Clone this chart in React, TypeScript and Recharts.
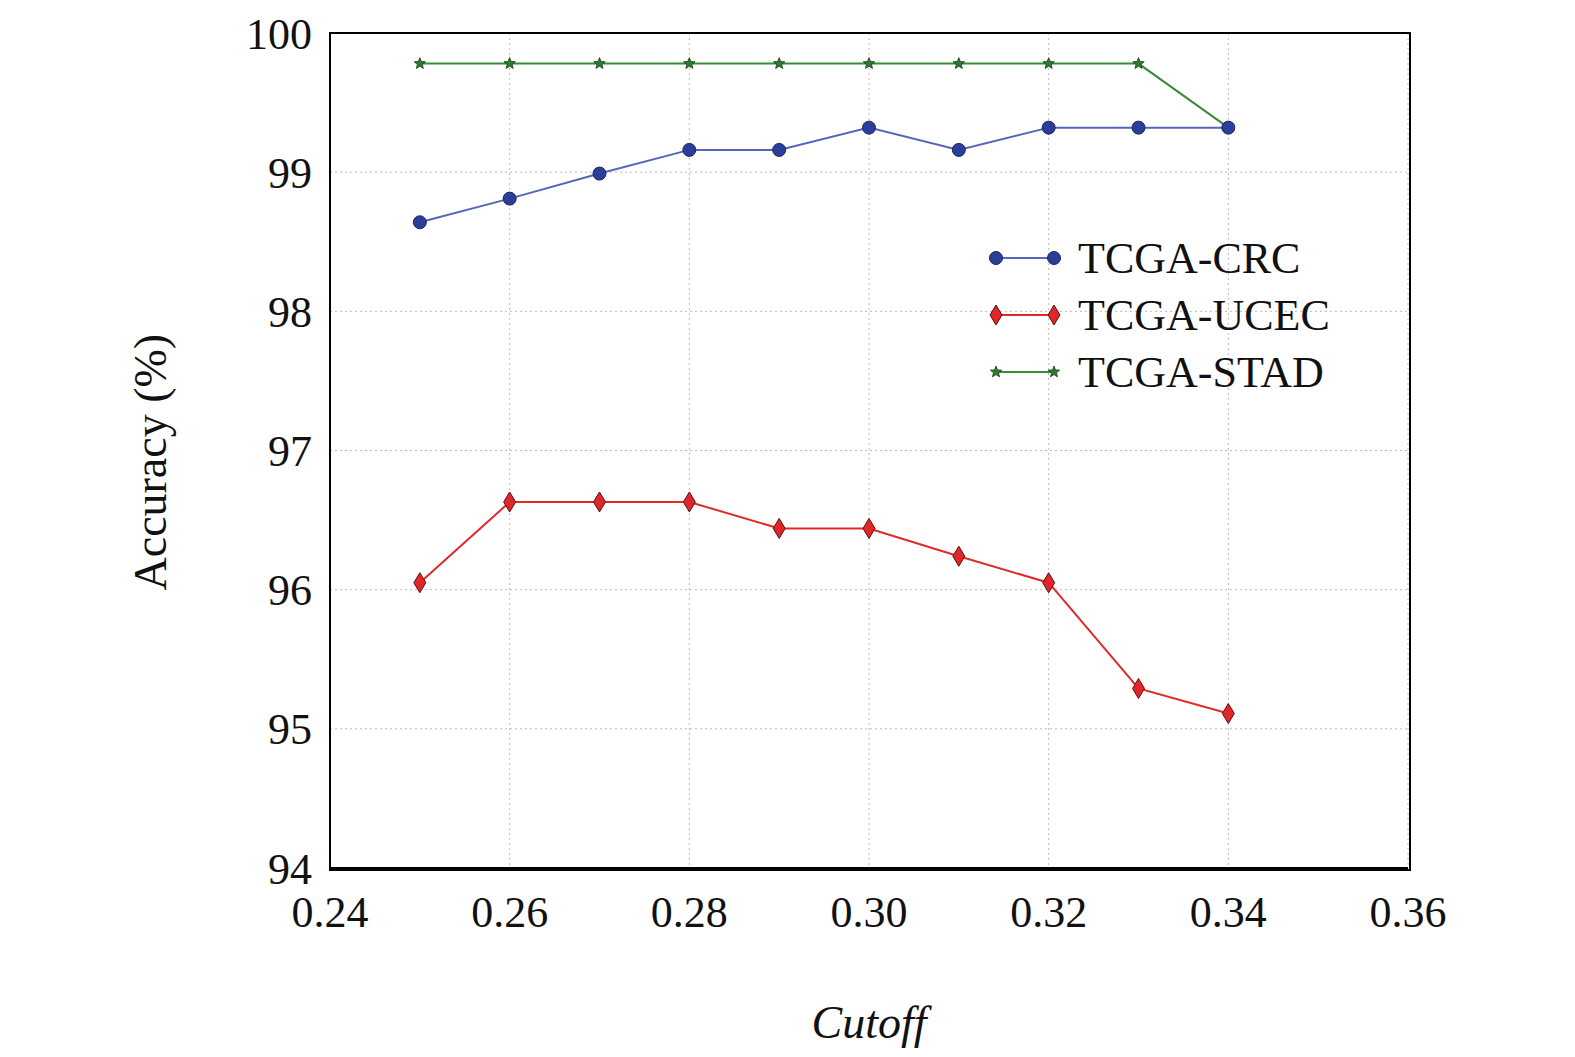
import React from 'react';
import { LineChart, Line, XAxis, YAxis, CartesianGrid } from 'recharts';

const cutoffs = [0.25, 0.26, 0.27, 0.28, 0.29, 0.3, 0.31, 0.32, 0.33, 0.34];
const crc = [98.64, 98.81, 98.99, 99.16, 99.16, 99.32, 99.16, 99.32, 99.32, 99.32];
const ucec = [96.05, 96.63, 96.63, 96.63, 96.44, 96.44, 96.24, 96.05, 95.29, 95.11];
const stad = [99.78, 99.78, 99.78, 99.78, 99.78, 99.78, 99.78, 99.78, 99.78, 99.32];
const xTicks = [0.24, 0.26, 0.28, 0.3, 0.32, 0.34, 0.36];
const yTicks = [94, 95, 96, 97, 98, 99, 100];

const data = cutoffs.map((c, i) => ({ cutoff: c, crc: crc[i], ucec: ucec[i], stad: stad[i] }));

const FONT = '"Liberation Serif", "Times New Roman", serif';

const Circle = ({ cx, cy }: any) => (
  <circle cx={cx} cy={cy} r={6.5} fill="#2b3f9a" stroke="#1a2560" strokeWidth={1} />
);
const Diamond = ({ cx, cy }: any) => (
  <polygon points={`${cx},${cy - 10} ${cx + 6},${cy} ${cx},${cy + 10} ${cx - 6},${cy}`}
    fill="#e0262a" stroke="#5a1010" strokeWidth={1} />
);
const Star = ({ cx, cy }: any) => {
  const pts: string[] = [];
  for (let k = 0; k < 10; k++) {
    const r = k % 2 === 0 ? 6 : 2.6;
    const a = -Math.PI / 2 + (k * Math.PI) / 5;
    pts.push(`${cx + r * Math.cos(a)},${cy + r * Math.sin(a)}`);
  }
  return <polygon points={pts.join(' ')} fill="#2e7a2e" stroke="#1a3f1a" strokeWidth={0.8} />;
};

const legendItems = [
  { name: 'TCGA-CRC', color: '#5566bb', Marker: Circle },
  { name: 'TCGA-UCEC', color: '#e02a2a', Marker: Diamond },
  { name: 'TCGA-STAD', color: '#3a8a3a', Marker: Star },
];

const LegendBox = () => (
  <svg width={420} height={170} style={{ position: 'absolute', left: 978, top: 228 }}>
    {legendItems.map((it, i) => {
      const y = 22 + i * 57;
      return (
        <g key={it.name}>
          <line x1={10} x2={68} y1={y} y2={y} stroke={it.color} strokeWidth={2} />
          <it.Marker cx={10} cy={y} />
          <it.Marker cx={68} cy={y} />
          <text x={92} y={y + 15} fontSize={44} fontFamily={FONT} fill="#111">{it.name}</text>
        </g>
      );
    })}
  </svg>
);

export default function App() {
  return (
    <div style={{ position: 'relative', width: 1560, height: 1050 }}>
      <LineChart width={1560} height={1050} data={data}
        margin={{ top: 25, right: 160, bottom: 130, left: 222 }}
        style={{ fontFamily: FONT }}>
        <CartesianGrid stroke="#bbb" strokeDasharray="2 3" />
        <XAxis dataKey="cutoff" type="number" domain={[0.24, 0.36]} ticks={xTicks}
          tickFormatter={(v: number) => v.toFixed(2)} tickLine={false}
          stroke="#000" strokeWidth={2} height={60}
          tick={{ fontSize: 44, fill: '#111', fontFamily: FONT }} tickMargin={22}
          label={{ value: 'Cutoff', position: 'insideBottom', offset: -110, fontSize: 46, fontStyle: 'italic', fill: '#111', fontFamily: FONT }} />
        <YAxis domain={[94, 100]} ticks={yTicks} tickLine={false} stroke="#000" strokeWidth={2} width={100}
          tick={{ fontSize: 44, fill: '#111', fontFamily: FONT }} tickMargin={12}
          label={{ value: 'Accuracy (%)', angle: -90, position: 'insideLeft', offset: -80, dy: 140, fontSize: 46, fill: '#111', fontFamily: FONT }} />
        <Line dataKey="stad" stroke="#3a8a3a" strokeWidth={2} dot={<Star />} isAnimationActive={false} />
        <Line dataKey="crc" stroke="#5566bb" strokeWidth={2} dot={<Circle />} isAnimationActive={false} />
        <Line dataKey="ucec" stroke="#e02a2a" strokeWidth={2} dot={<Diamond />} isAnimationActive={false} />
      </LineChart>
      <div style={{ position: 'absolute', left: 321, top: 24, width: 1078, height: 835, border: '2px solid #000', pointerEvents: 'none' }} />
      <LegendBox />
    </div>
  );
}
